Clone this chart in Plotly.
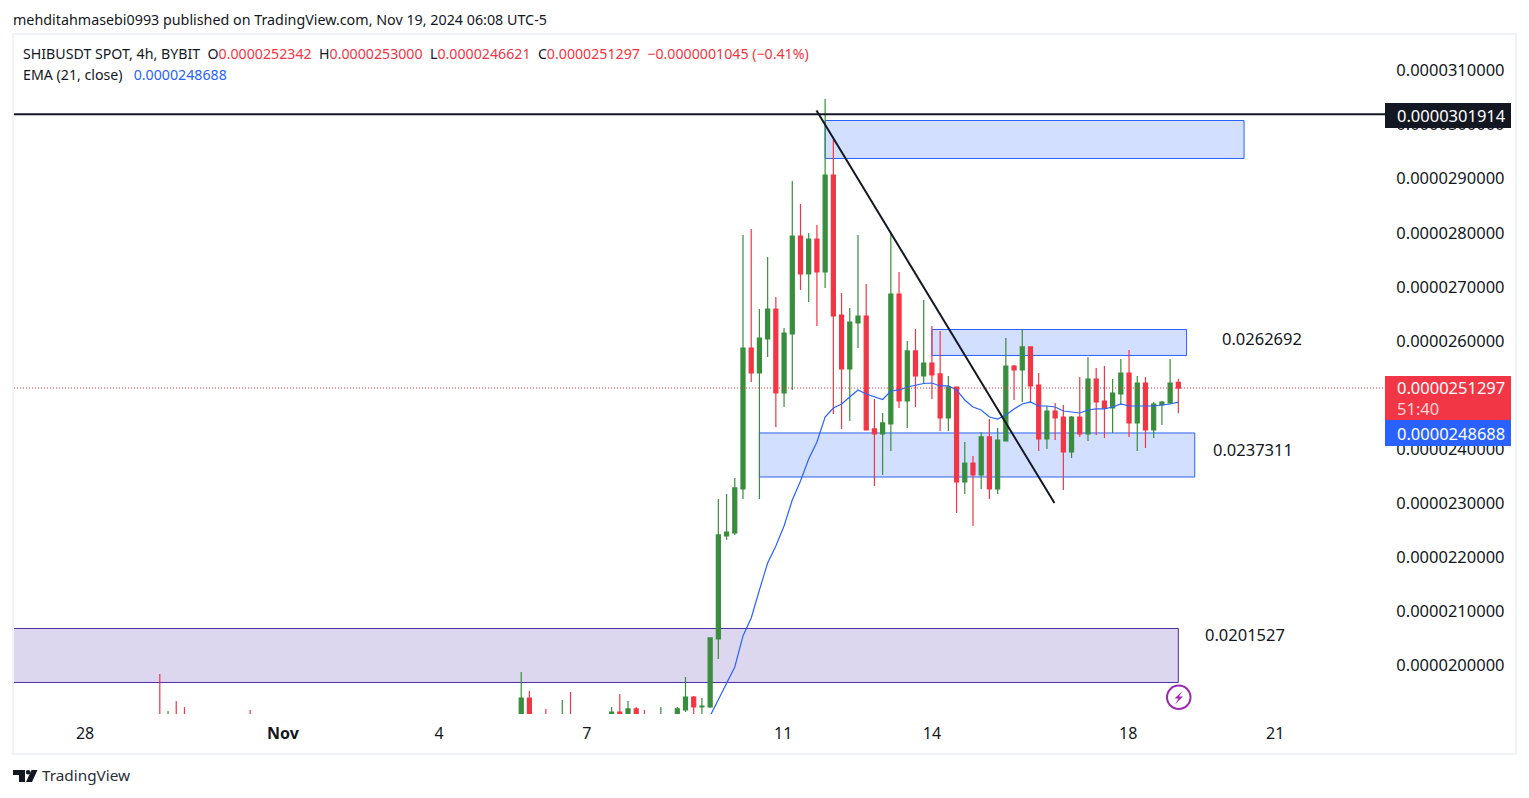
import plotly.graph_objects as go

W, H = 1529, 798
L, R, T, B = 14, 1385, 35, 714

GREEN = "#388e3c"
RED = "#f23645"
BLUE = "#2962ff"
INK = "#131722"
PURPLE = "#512da8"

# prices are in units of 1e-6 USDT, bar number counts 4h bars from the first visible one
bars = [0, 1, 2, 3, 11, 44, 45, 47, 49, 50, 55, 56, 57, 58, 59, 61, 63, 64, 65, 66, 67, 68, 69, 70, 71, 72, 73, 74, 75, 76, 77, 78, 79, 80, 81, 82, 83, 84, 85, 86, 87, 88, 89, 90, 91, 92, 93, 94, 95, 96, 97, 98, 99, 100, 101, 102, 103, 104, 105, 106, 107, 108, 109, 110, 111, 112, 113, 114, 115, 116, 117, 118, 119, 120, 121, 122, 123, 124]
opens = [19.05, 19.00, 19.05, 19.05, 19.05, 19.00, 19.399, 19.05, 19.00, 19.05, 19.00, 19.14, 19.00, 19.196, 19.05, 19.00, 19.00, 19.177, 19.417, 19.233, 19.233, 20.49, 22.394, 22.45, 23.263, 25.87, 25.408, 26.037, 26.591, 25.038, 26.129, 27.941, 27.238, 27.885, 27.275, 29.069, 26.48, 25.482, 26.332, 26.462, 24.373, 24.28, 24.465, 26.868, 24.89, 25.815, 25.353, 25.593, 25.39, 24.576, 25.149, 23.393, 23.744, 23.522, 24.225, 23.263, 24.151, 25.537, 25.463, 25.889, 25.186, 24.188, 24.705, 24.594, 23.947, 24.594, 24.28, 25.297, 24.89, 24.761, 25.02, 25.408, 24.484, 25.223, 24.354, 24.816, 24.853, 25.2342]
highs = [19.843, 19.159, 19.344, 19.233, 19.177, 19.88, 19.529, 19.196, 19.362, 19.511, 19.233, 19.473, 19.344, 19.233, 19.177, 19.233, 19.233, 19.788, 19.436, 19.399, 20.509, 23.079, 23.171, 23.467, 27.959, 28.07, 26.591, 27.553, 26.813, 26.24, 28.958, 28.532, 27.996, 28.144, 30.474, 29.716, 26.887, 26.61, 27.959, 27.053, 24.927, 24.668, 27.996, 27.275, 26.0, 26.221, 26.758, 26.277, 26.184, 25.353, 25.149, 24.132, 23.873, 24.317, 24.557, 24.391, 26.055, 25.556, 26.221, 25.889, 25.408, 24.798, 24.853, 24.816, 24.613, 25.334, 25.704, 25.5, 25.537, 25.297, 25.667, 25.833, 25.353, 25.334, 24.872, 24.89, 25.667, 25.3]
lows = [18.95, 18.95, 18.95, 18.95, 18.95, 18.95, 18.95, 18.95, 18.95, 18.95, 18.95, 18.95, 18.95, 18.95, 18.95, 18.95, 18.95, 19.14, 18.95, 18.95, 19.215, 20.12, 22.32, 22.413, 23.079, 25.242, 23.079, 25.704, 24.41, 24.779, 25.094, 26.942, 26.721, 26.277, 26.979, 24.65, 24.373, 24.521, 25.87, 24.354, 23.319, 23.522, 23.966, 24.761, 24.391, 24.779, 25.205, 24.927, 24.336, 24.336, 22.82, 23.171, 22.579, 23.263, 23.079, 23.171, 24.151, 24.909, 24.872, 24.853, 23.966, 24.003, 24.169, 23.245, 23.836, 24.225, 24.151, 24.262, 24.206, 24.299, 24.816, 24.225, 23.966, 24.021, 24.206, 24.447, 24.835, 24.6621]
closes = [19.00, 19.05, 19.00, 19.00, 19.00, 19.399, 19.00, 19.00, 19.05, 19.00, 19.14, 19.00, 19.196, 19.00, 19.00, 19.05, 19.196, 19.417, 19.233, 19.251, 20.509, 22.413, 22.468, 23.282, 25.87, 25.408, 26.055, 26.591, 25.038, 26.147, 27.941, 27.238, 27.885, 27.275, 29.069, 26.462, 25.482, 26.351, 26.462, 24.354, 24.28, 24.484, 26.868, 24.89, 25.815, 25.353, 25.593, 25.371, 24.576, 25.149, 23.393, 23.744, 23.522, 24.225, 23.263, 24.169, 25.537, 25.463, 25.889, 25.168, 24.188, 24.705, 24.576, 23.947, 24.594, 24.28, 25.297, 24.872, 24.761, 25.038, 25.408, 24.484, 25.223, 24.354, 24.835, 24.872, 25.223, 25.1297]

ema_bars = list(range(67, 125))
ema = [19.067, 19.362, 19.658, 19.972, 20.546, 20.878, 21.396, 21.895, 22.21, 22.579, 23.06, 23.411, 23.818, 24.132, 24.594, 24.761, 24.835, 24.964, 25.094, 25.02, 24.964, 24.918, 25.075, 25.094, 25.149, 25.186, 25.214, 25.223, 25.168, 25.168, 25.094, 24.909, 24.779, 24.724, 24.594, 24.557, 24.631, 24.743, 24.835, 24.872, 24.798, 24.798, 24.779, 24.705, 24.687, 24.668, 24.724, 24.743, 24.743, 24.779, 24.835, 24.798, 24.798, 24.798, 24.798, 24.816, 24.835, 24.8688]

price_ticks = [20, 21, 22, 23, 24, 25, 26, 27, 28, 29, 30, 31]
date_ticks = [-9.1, 15, 34, 52, 75.9, 94, 117.9, 135.8]
date_labels = ["28", "<b>Nov</b>", "4", "7", "11", "14", "18", "21"]

last_close = 25.1297
resistance = 30.1914
trend_x = [79.95, 108.92]
trend_y = [30.261, 23.004]

# (bar from, bar to, price low, price high, fill, line)
zones = [
    (81, 132, 29.374, 30.076, "#d2dffe", BLUE),
    (94, 125, 25.732, 26.212, "#d2dffe", BLUE),
    (73, 126, 23.485, 24.299, "#d2dffe", BLUE),
    (-30, 124, 19.686, 20.684, "#dcd6ee", PURPLE),
]


def px(x):
    return (x - L) / (R - L)


def py(y):
    return (B - y) / (B - T)


def label(x, y, text, color=INK, size=16.5):
    return dict(xref="paper", yref="paper", x=px(x), y=py(y), text=text, showarrow=False, xanchor="left", yanchor="middle",
                align="left", font=dict(size=size, color=color), borderpad=0, borderwidth=0)


def poly(points, fill):
    path = "M " + " L ".join(f"{px(a)} {py(b)}" for a, b in points) + " Z"
    return dict(type="path", xref="paper", yref="paper", path=path, fillcolor=fill, line=dict(width=0), layer="above")


def box(x0, y0, x1, y1, fill=None, line=None, width=0):
    return dict(type="rect", xref="paper", yref="paper", x0=px(x0), x1=px(x1), y0=py(y0), y1=py(y1), fillcolor=fill or "rgba(0,0,0,0)",
                line=dict(width=width, color=line or "rgba(0,0,0,0)"), layer="above")


fig = go.Figure()

fig.add_trace(go.Candlestick(
    x=bars,
    open=[v * 1e-6 for v in opens],
    high=[v * 1e-6 for v in highs],
    low=[v * 1e-6 for v in lows],
    close=[v * 1e-6 for v in closes],
    whiskerwidth=0,
    increasing=dict(line=dict(color=GREEN, width=1.2), fillcolor=GREEN),
    decreasing=dict(line=dict(color=RED, width=1.2), fillcolor=RED),
))

fig.add_trace(go.Scatter(x=ema_bars, y=[v * 1e-6 for v in ema], mode="lines", line=dict(color=BLUE, width=1.2)))

shapes = []
for x0, x1, y0, y1, fill, line in zones:
    shapes.append(dict(type="rect", x0=x0, x1=x1, y0=y0 * 1e-6, y1=y1 * 1e-6, fillcolor=fill, line=dict(color=line, width=1), layer="below"))

shapes.append(dict(type="line", xref="paper", x0=0, x1=1, y0=last_close * 1e-6, y1=last_close * 1e-6, line=dict(color=RED, width=1, dash="1px,2px"), layer="above"))
shapes.append(dict(type="line", xref="paper", x0=0, x1=1, y0=resistance * 1e-6, y1=resistance * 1e-6, line=dict(color=INK, width=2), layer="above"))
shapes.append(dict(type="line", x0=trend_x[0], x1=trend_x[1], y0=trend_y[0] * 1e-6, y1=trend_y[1] * 1e-6, line=dict(color=INK, width=2), layer="above"))

# chart frame
shapes.append(box(13, 34, 1516, 754, line="#f0f3fa", width=2))

# price tags on the scale
shapes.append(box(1385, 103, 1511, 128, fill=INK))
shapes.append(box(1385, 376, 1511, 420, fill=RED))
shapes.append(box(1385, 420, 1511, 446, fill=BLUE))

# lightning badge
shapes.append(dict(type="circle", xref="paper", yref="paper", x0=px(1167), x1=px(1190.5), y0=py(709), y1=py(685.5),
                   fillcolor="white", line=dict(color="#9c27b0", width=2), layer="above"))
shapes.append(poly([(1182.5, 691), (1174.5, 698.5), (1178.5, 698.5), (1175, 704.5), (1183, 696.5), (1179, 696.5)], "#9c27b0"))

# TradingView mark
shapes.append(poly([(13, 770), (25, 770), (25, 782), (19, 782), (19, 775), (13, 775)], INK))
shapes.append(dict(type="circle", xref="paper", yref="paper", x0=px(25.8), x1=px(30.4), y0=py(774.6), y1=py(770), fillcolor=INK, line=dict(width=0), layer="above"))
shapes.append(poly([(31.5, 770), (37.5, 770), (32, 782), (26, 782)], INK))

gap = "&nbsp;&nbsp;"
legend_top = (f"SHIBUSDT SPOT, 4h, BYBIT{gap}O<span style='color:#f23645'>0.0000252342</span>{gap}H<span style='color:#f23645'>0.0000253000</span>"
              f"{gap}L<span style='color:#f23645'>0.0000246621</span>{gap}C<span style='color:#f23645'>0.0000251297</span>"
              f"{gap}<span style='color:#f23645'>−0.0000001045 (−0.41%)</span>")
legend_ema = f"EMA (21, close){gap}&nbsp;<span style='color:#2962ff'>0.0000248688</span>"

annotations = [
    label(13, 19, "mehditahmasebi0993 published on TradingView.com, Nov 19, 2024 06:08 UTC-5", size=14.3),
    label(23, 53.5, legend_top, size=14.2),
    label(23, 74.5, legend_ema, size=14.2),
    label(1222, 338, "0.0262692"),
    label(1213, 449, "0.0237311"),
    label(1205, 634, "0.0201527"),
    label(1397, 115.5, "0.0000301914", color="white"),
    label(1397, 388, "0.0000251297", color="white"),
    label(1397, 408, "51:40", color="#fbd5d9"),
    label(1397, 433.5, "0.0000248688", color="white"),
    label(42, 775.5, "TradingView", size=15.3, color="#2a2e39"),
]

fig.update_layout(
    width=W,
    height=H,
    margin=dict(l=L, r=W - R, t=T, b=H - B, pad=0),
    paper_bgcolor="white",
    plot_bgcolor="white",
    showlegend=False,
    boxgap=0.3,
    boxmode="overlay",
    font=dict(family="Noto Sans", color=INK),
    shapes=shapes,
    annotations=annotations,
    hovermode=False,
)

fig.update_xaxes(
    range=[-17.75, 149.16],
    tickmode="array",
    tickvals=date_ticks,
    ticktext=date_labels,
    tickfont=dict(size=16, color=INK),
    ticks="outside",
    ticklen=5,
    tickcolor="rgba(0,0,0,0)",
    showgrid=False,
    zeroline=False,
    showline=False,
    rangeslider=dict(visible=False),
)

fig.update_yaxes(
    range=[19.103e-6, 31.657e-6],
    side="right",
    tickmode="array",
    tickvals=[v * 1e-6 for v in price_ticks],
    tickformat=".10f",
    tickfont=dict(size=16.5, color=INK),
    ticks="outside",
    ticklen=7,
    tickcolor="rgba(0,0,0,0)",
    showgrid=False,
    zeroline=False,
    showline=False,
)

# the page's default body margin would push everything 8px off
fig.write_html("out.html", config=dict(displayModeBar=False), post_script="document.body.style.margin='0';")
